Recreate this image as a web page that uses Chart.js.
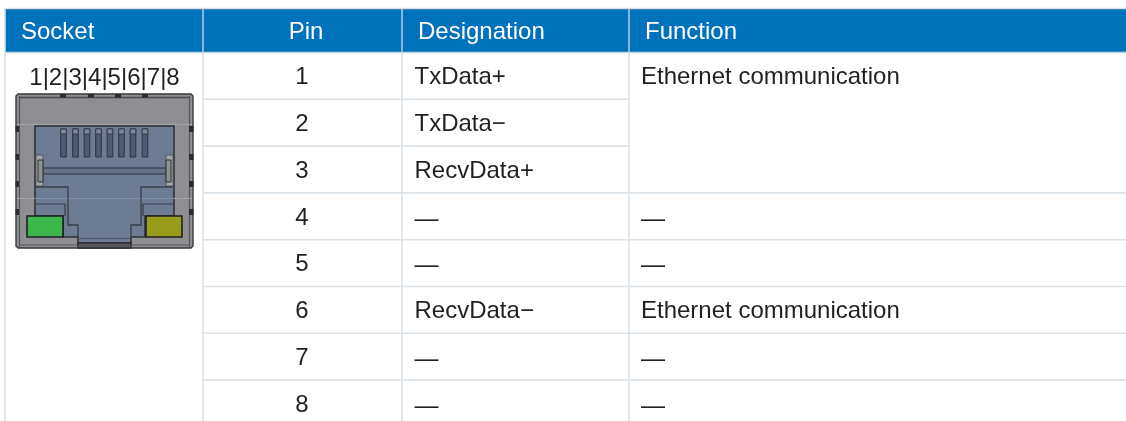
<!DOCTYPE html>
<html>
<head>
<meta charset="utf-8">
<style>html,body{margin:0;padding:0;background:#fff}canvas{display:block}</style>
<script src="https://cdn.jsdelivr.net/npm/chart.js@4/dist/chart.umd.min.js"></script>
</head>
<body>
<canvas id="c" width="1126" height="421"></canvas>
<script>
// ---- table content
const headers = ["Socket", "Pin", "Designation", "Function"];
const socketLabel = "1|2|3|4|5|6|7|8";
const pins = ["1", "2", "3", "4", "5", "6", "7", "8"];
const designations = ["TxData+", "TxData\u2212", "RecvData+", "\u2014", "\u2014", "RecvData\u2212", "\u2014", "\u2014"];
const functions = ["Ethernet communication", "", "", "\u2014", "\u2014", "Ethernet communication", "\u2014", "\u2014"];

// ---- layout (chart scale units = reference pixels)
const W = 1126, H = 421;
const colEdges = [5, 203, 402, 629];
const headTop = 8.5, headBottom = 52.5, rowH = 46.8;
const rowEdge = i => headBottom + i * rowH;
const GRID = "#dbe2e8", SEP = "#a9c9e4", HEAD = "#0071bb", INK = "#231f20";
const FONT = '24px "Liberation Sans", Arial, sans-serif';

// ---- grid lines as line datasets
const seg = (x1, y1, x2, y2, color, w) => ({
  type: "scatter", showLine: true, pointRadius: 0, borderColor: color, borderWidth: w || 1.6,
  data: [{x: x1, y: y1}, {x: x2, y: y2}]
});
const gridSets = [];
gridSets.push(seg(colEdges[0], headTop, W, headTop, "#d9dde1", 1.4));
gridSets.push(seg(colEdges[0], headBottom, W, headBottom, "#c4d3e1", 1.6));
colEdges.forEach((x, i) => {
  gridSets.push(seg(x, i ? headBottom : headTop, x, H, GRID));
  if (i) gridSets.push(seg(x, headTop, x, headBottom, SEP));
});
for (let i = 1; i < pins.length; i++) {
  const merged = functions[i] === "" ;
  gridSets.push(seg(colEdges[1], rowEdge(i), merged ? colEdges[3] : W, rowEdge(i), GRID));
}

// ---- plugin painting the header band, the socket picture and cell text through the scales
const tablePlugin = {
  id: "table",
  beforeDatasetsDraw(chart) {
    const {ctx, scales: {x, y}} = chart;
    ctx.save();
    ctx.fillStyle = HEAD;
    const l = x.getPixelForValue(colEdges[0]), t = y.getPixelForValue(headTop);
    ctx.fillRect(l, t, x.getPixelForValue(W) - l, y.getPixelForValue(headBottom) - t);
    ctx.restore();
  },
  afterDatasetsDraw(chart) {
    const {ctx, scales: {x, y}} = chart;
    const X = v => x.getPixelForValue(v), Y = v => y.getPixelForValue(v);
    const text = (s, px, py, color, align) => {
      ctx.fillStyle = color; ctx.textAlign = align || "left"; ctx.textBaseline = "alphabetic";
      ctx.fillText(s, X(px), Y(py));
    };
    ctx.save();
    ctx.font = FONT;
    text(headers[0], 21, 39, "#fff");
    text(headers[1], 306, 39, "#fff", "center");
    text(headers[2], 418, 39, "#fff");
    text(headers[3], 645, 39, "#fff");
    text(socketLabel, 104.5, 85, INK, "center");
    pins.forEach((p, i) => {
      const b = rowEdge(i) + 31.6;
      text(p, 302, b, INK, "center");
      text(designations[i], 414.5, b + (designations[i].length > 1 ? 0 : 1), INK);
      if (functions[i]) text(functions[i], 641, b + (functions[i].length > 1 ? 0 : 1), INK);
    });
    drawSocket(ctx, X, Y);
    ctx.restore();
  }
};

function drawSocket(ctx, X, Y) {
  const DARK = "#2f3036";
  const poly = (pts, fill, stroke, lw, closed = true) => {
    ctx.beginPath();
    pts.forEach((p, i) => i ? ctx.lineTo(X(p[0]), Y(p[1])) : ctx.moveTo(X(p[0]), Y(p[1])));
    if (closed) ctx.closePath();
    if (fill) { ctx.fillStyle = fill; ctx.fill(); }
    if (stroke) { ctx.strokeStyle = stroke; ctx.lineWidth = lw || 1; ctx.stroke(); }
  };
  const rect = (a, b, c, d, fill, stroke, lw) => poly([[a, b], [c, b], [c, d], [a, d]], fill, stroke, lw);
  const mirror = p => 209 - p;

  // housing
  poly([[18, 94], [191, 94], [193, 96], [193, 246], [191, 248], [18, 248], [16, 246], [16, 96]], "#8f8f93", "#38393e", 1.4);
  poly([[19, 97.5], [190, 97.5]], null, "#4a4b50", 1.4, false);
  poly([[19.5, 96], [19.5, 247]], null, "#55565b", 1.2, false);
  poly([[189.5, 96], [189.5, 247]], null, "#55565b", 1.2, false);
  poly([[19, 245], [78, 245]], null, "#55565b", 1.2, false);
  poly([[131, 245], [190, 245]], null, "#55565b", 1.2, false);
  [60, 88, 115, 142].forEach(a => rect(a, 94, a + 6, 97.5, "#2c2d32"));
  [129, 157, 184, 212].forEach(b => {
    rect(15.5, b - 3, 19, b + 3, "#2c2d32");
    rect(189, b - 3, 193.5, b + 3, "#2c2d32");
  });

  // cavity
  poly([[35, 126], [174, 126], [174, 216], [145, 216], [145, 237], [131, 237], [131, 243], [78, 243], [78, 237], [63, 237], [63, 216], [35, 216]],
       "#6d7c93", DARK, 1.6);
  poly([[17, 124.5], [192, 124.5]], null, "#a9abb0", 0.8, false);
  poly([[17, 198.5], [35, 198.5]], null, "#a9abb0", 0.8, false);
  poly([[35, 198.5], [174, 198.5]], null, "#8794a8", 0.8, false);
  poly([[174, 198.5], [192, 198.5]], null, "#a9abb0", 0.8, false);

  // contacts
  [63.5, 75.5, 87, 98.5, 110, 121.5, 133, 145].forEach(c => {
    rect(c - 2.8, 129, c + 2.8, 157, "#4f5b6e", "#2f3340", 1);
    rect(c - 2.8, 129, c + 2.8, 134, "#7b8798", "#2f3340", 0.8);
  });

  // cross bar and clips
  rect(43, 168, 166, 174, "#657389", DARK, 1.2);
  rect(36, 155, 43, 186, "#a6a8a8", "#55565b", 1);
  rect(38, 160, 43, 182, "#8d918f", DARK, 1);
  rect(166, 155, 173, 186, "#a6a8a8", "#55565b", 1);
  rect(166, 160, 171, 182, "#8d918f", DARK, 1);

  // plug outline
  poly([[36, 187], [68, 187], [68, 225], [78, 225], [78, 238]], null, "#3a3c46", 1.3, false);
  poly([[mirror(36) - 0.5, 187], [141, 187], [141, 225], [131, 225], [131, 238]], null, "#3a3c46", 1.3, false);
  poly([[36, 204], [65, 204], [65, 216]], null, "#3a3c46", 1.2, false);
  poly([[173, 204], [143, 204], [143, 216]], null, "#3a3c46", 1.2, false);
  poly([[78, 238.5], [131, 238.5]], null, "#4e5568", 1, false);

  // notch at the bottom
  rect(78, 243, 131, 248, "#55565b", "#2c2d32", 1.3);

  // LEDs
  rect(27, 216, 63, 237, "#3cb54a", "#1f2023", 1.6);
  rect(146, 216, 182, 237, "#979c1b", "#1f2023", 1.6);
}

new Chart(document.getElementById("c"), {
  type: "scatter",
  data: {datasets: gridSets},
  options: {
    responsive: false,
    animation: false,
    layout: {padding: 0},
    plugins: {legend: {display: false}, tooltip: {enabled: false}, title: {display: false}},
    scales: {
      x: {type: "linear", min: 0, max: W, display: false},
      y: {type: "linear", min: 0, max: H, reverse: true, display: false}
    },
    clip: false
  },
  plugins: [tablePlugin]
});
</script>
</body>
</html>
